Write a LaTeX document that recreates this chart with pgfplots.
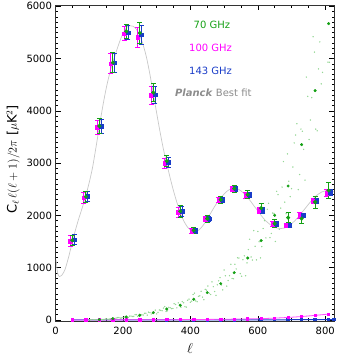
\documentclass[border=0pt]{standalone}
\usepackage{fontspec}
\setmainfont{DejaVu Sans}
\usepackage{pgfplots}
\pgfplotsset{compat=1.18}

\definecolor{pgreen}{RGB}{20,160,20}
\definecolor{pmag}{RGB}{255,0,255}
\definecolor{pblue}{RGB}{25,60,200}
\definecolor{fitgray}{RGB}{200,200,200}
\definecolor{txtgray}{RGB}{140,140,140}
\definecolor{scat}{RGB}{150,215,150}

\begin{document}
\begin{tikzpicture}
\useasboundingbox (-55.5pt,-37pt) rectangle (282.5pt,321pt);
\begin{axis}[
  at={(0,0)}, anchor=south west,
  scale only axis, width=278.5pt, height=315.7pt,
  xmin=0, xmax=826, ymin=-20, ymax=6020,
  xtick={0,200,...,800}, ytick={0,1000,...,6000},
  minor x tick num=3, minor y tick num=9,
  major tick length=5pt, minor tick length=2.5pt,
  tick style={black, line width=0.5pt},
  axis line style={black!80, line width=0.6pt},
  /pgf/number format/assume math mode=true,
  /pgf/number format/1000 sep={},
  tick label style={font=\fontsize{10}{12}\selectfont},
  xticklabel style={yshift=-3pt},
  xlabel={$\ell$},
  xlabel style={at={(axis description cs:0.483,-0.088)}, anchor=center, inner sep=0pt, font=\fontsize{15}{16}\selectfont},
  ylabel={C$_\ell\,\ell(\ell+1)/2\pi$ [$\mu$K$^2$]},
  ylabel style={at={(axis description cs:-0.152,0.512)}, anchor=center, font=\fontsize{13}{15}\selectfont},
]

% best fit
\addplot[fitgray, line width=0.7pt, smooth] coordinates {
(2,1150)(4,1000)(7,880)(12,830)(18,850)(25,920)(30,1000)(40,1230)(50,1500)
(60,1740)(70,1960)(80,2160)(90,2380)(100,2630)(110,2920)(120,3300)(130,3700)
(140,4080)(150,4420)(160,4700)(170,4930)(180,5130)(190,5320)(200,5480)(210,5590)
(220,5630)(230,5620)(240,5560)(250,5440)(260,5260)(270,5020)(280,4700)(290,4330)
(300,3960)(310,3600)(320,3270)(330,2990)(340,2720)(350,2470)(360,2250)(370,2060)
(380,1900)(390,1790)(400,1720)(410,1695)(420,1700)(430,1750)(440,1830)(450,1930)
(460,2040)(470,2150)(480,2250)(490,2330)(500,2410)(510,2470)(520,2510)(530,2525)
(540,2510)(550,2470)(560,2410)(570,2340)(580,2260)(590,2170)(600,2090)(610,2000)
(620,1920)(630,1860)(640,1810)(650,1775)(660,1755)(670,1750)(680,1760)(690,1790)
(700,1840)(710,1900)(720,1970)(730,2050)(740,2130)(750,2210)(760,2290)(770,2360)
(780,2410)(790,2450)(800,2470)(810,2475)(820,2465)(826,2450)};

% 70 GHz noise, unbinned
\addplot[scat, only marks, mark=*, mark size=0.45pt] coordinates {
(100,2)(108,3)(116,4)(124,4)(132,7)(140,9)(148,18)(156,15)(164,22)(172,25)
(180,37)(188,46)(196,38)(204,55)(212,43)(220,73)(228,68)(236,100)(244,70)(252,94)
(260,93)(268,130)(276,149)(284,114)(292,152)(300,116)(308,192)(316,176)(324,255)(332,175)
(340,232)(348,219)(356,296)(364,328)(372,245)(380,328)(388,246)(396,398)(404,359)(412,513)
(420,350)(428,461)(436,435)(444,585)(452,649)(460,487)(468,636)(476,470)(484,749)(492,670)
(500,956)(508,647)(516,848)(524,794)(532,1066)(540,1190)(548,887)(556,1152)(564,846)(572,1346)
(580,1205)(588,1709)(596,1149)(604,1497)(612,1403)(620,1901)(628,2118)(636,1576)(644,2045)(652,1502)
(660,2399)(668,2141)(676,3030)(684,2033)(692,2655)(700,2513)(708,3386)(716,3754)(724,2782)(732,3610)
(740,2674)(748,4278)(756,3825)(764,5418)(772,3651)(780,4802)(788,4517)(796,6055)(812,4930)};
\addplot[scat, only marks, mark=*, mark size=0.45pt] coordinates {
(104,2)(112,4)(120,4)(128,7)(136,7)(144,12)(152,19)(160,16)(168,27)(176,27)
(184,44)(192,36)(200,49)(208,65)(216,49)(224,75)(232,70)(240,102)(248,78)(256,100)
(264,126)(272,92)(280,140)(288,128)(296,188)(304,144)(312,183)(320,227)(328,163)(336,242)
(344,218)(352,310)(360,231)(368,285)(376,350)(384,253)(392,377)(400,340)(408,487)(416,364)
(424,453)(432,549)(440,388)(448,570)(456,511)(464,729)(472,544)(480,672)(488,811)(496,574)
(504,845)(512,753)(520,1065)(528,788)(536,975)(544,1184)(552,837)(560,1227)(568,1091)(576,1544)
(584,1146)(592,1409)(600,1693)(608,1189)(616,1750)(624,1570)(632,2231)(640,1655)(648,2039)(656,2461)
(664,1736)(672,2542)(680,2253)(688,3176)(696,2360)(704,2925)(712,3538)(720,2493)(728,3653)(736,3264)
(744,4646)(752,3452)(760,4254)(768,5125)(776,3618)(784,5320)(792,4736)(808,4932)};

% noise, binned
\addplot[pblue, line width=1pt, mark=square*, mark size=1.2pt] coordinates {
(50,0)(90,0)(130,0)(170,0)(210,0)(250,0)(290,1)(330,1)(370,1)(410,1)(450,2)
(490,2)(530,2)(570,3)(610,3)(650,3)(690,4)(730,4)(770,5)(810,5)(826,5)};
\addplot[pmag!70, line width=0.8pt, mark=square*, mark size=1.2pt, mark options={pmag}] coordinates {
(50,0)(90,0)(130,0)(170,1)(210,2)(250,3)(290,4)(330,5)(370,6)(410,8)(450,10)
(490,13)(530,16)(570,20)(610,25)(650,35)(690,48)(730,65)(770,88)(810,112)};
\addplot[pgreen, only marks, mark=*, mark size=1.3pt] coordinates {
(130,5)(170,25)(210,57)(250,90)(290,140)(330,210)(370,280)(410,395)(450,523)
(490,695)(530,905)(570,1185)(610,1518)(650,2002)(690,2563)(730,3354)(770,4388)(810,5669)};

% 100 GHz
\addplot[pmag, only marks, mark=square*, mark size=1.8pt,
  error bars/.cd, y dir=both, y explicit,
  error bar style={line width=0.8pt},
  error mark options={rotate=90, mark size=2.5pt, line width=0.8pt}] coordinates {
(44,1510) +- (0,100) (84,2341) +- (0,105) (124,3686) +- (0,140) (164,4904) +- (0,190)
(204,5478) +- (0,135) (244,5413) +- (0,190) (284,4298) +- (0,165) (324,2997) +- (0,100)
(364,2059) +- (0,100) (404,1700) +- (0,50) (444,1930) +- (0,50) (484,2295) +- (0,50)
(524,2505) +- (0,50) (564,2390) +- (0,55) (604,2100) +- (0,55) (644,1835) +- (0,50)
(684,1811) +- (0,45) (724,2002) +- (0,50) (764,2276) +- (0,55) (804,2429) +- (0,60)};

% 143 GHz
\addplot[pblue, only marks, mark=square*, mark size=1.8pt,
  error bars/.cd, y dir=both, y explicit,
  error bar style={line width=0.8pt},
  error mark options={rotate=90, mark size=2.5pt, line width=0.8pt}] coordinates {
(55,1537) +- (0,95) (95,2366) +- (0,100) (135,3705) +- (0,135) (175,4923) +- (0,185)
(215,5497) +- (0,135) (255,5459) +- (0,185) (295,4311) +- (0,160) (335,3016) +- (0,100)
(375,2079) +- (0,95) (415,1710) +- (0,45) (455,1935) +- (0,45) (495,2300) +- (0,45)
(535,2510) +- (0,45) (575,2395) +- (0,50) (615,2095) +- (0,50) (655,1840) +- (0,45)
(695,1811) +- (0,40) (735,2002) +- (0,45) (775,2276) +- (0,50) (815,2440) +- (0,55)};

% 70 GHz
\addplot[pgreen, only marks, mark=*, mark size=1.9pt,
  error bars/.cd, y dir=both, y explicit,
  error bar style={line width=0.8pt},
  error mark options={rotate=90, mark size=2.5pt, line width=0.8pt}] coordinates {
(50,1524) +- (0,100) (90,2360) +- (0,105) (130,3711) +- (0,145) (170,4923) +- (0,190)
(210,5522) +- (0,140) (250,5490) +- (0,195) (290,4350) +- (0,175) (330,3041) +- (0,110)
(370,2079) +- (0,110) (410,1715) +- (0,60) (450,1939) +- (0,65) (490,2302) +- (0,65)
(530,2513) +- (0,65) (570,2398) +- (0,75) (610,2140) +- (0,85) (650,1843) +- (0,80)
(690,1958) +- (0,100) (730,1939) +- (0,95) (770,2257) +- (0,115) (810,2480) +- (0,150)};

\node[pgreen, font=\fontsize{10}{12}\selectfont] at (axis cs:464,5637) {70 GHz};
\node[pmag, font=\fontsize{10}{12}\selectfont] at (axis cs:460,5210) {100 GHz};
\node[pblue, font=\fontsize{10}{12}\selectfont] at (axis cs:460,4770) {143 GHz};
\node[txtgray, font=\fontsize{10}{12}\selectfont] at (axis cs:468,4350) {\textbf{\textit{Planck}} Best fit};
\end{axis}
\end{tikzpicture}
\end{document}
